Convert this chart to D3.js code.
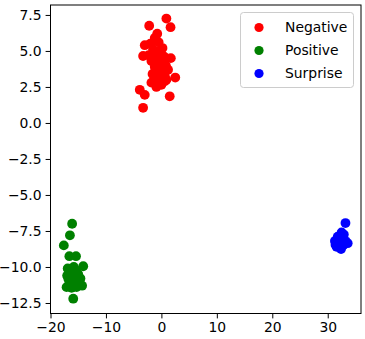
<!DOCTYPE html>
<html lang="en">
<head>
  <meta charset="UTF-8">
  <title>Scatter clusters</title>
  <script src="https://d3js.org/d3.v7.min.js"></script>
  <style>
    body { margin: 0; background: #fff; }
    svg { display: block; font-family: "DejaVu Sans", sans-serif; }
  </style>
</head>
<body>
<div id="chart"></div>
<script>
  // Data
  const categories = ["Negative", "Positive", "Surprise"];
  const colors = ["#ff0000", "#008000", "#0000ff"];

  const negative = [
    [-2.2, 6.75], [0.9, 7.25], [1.65, 6.65], [-0.75, 6.2], [-1.2, 5.9], [-3.0, 5.4],
    [-2.0, 5.5], [-0.5, 5.6], [0.2, 5.2], [-1.5, 5.1], [-3.3, 4.65], [-2.3, 4.7],
    [-0.8, 4.8], [1.7, 4.5], [0.5, 4.6], [-1.8, 4.3], [-0.3, 4.2], [0.8, 4.0],
    [-1.2, 3.9], [-0.6, 3.6], [0.3, 3.7], [1.2, 3.7], [-1.6, 3.4], [-0.2, 3.2],
    [0.6, 3.3], [2.5, 3.15], [-1.0, 3.0], [0.6, 2.9], [-1.8, 2.8], [0.0, 2.65],
    [-0.9, 2.5], [-3.9, 2.3], [-3.0, 1.95], [1.5, 1.85], [-3.3, 1.05], [-0.5, 4.5],
    [0.1, 3.9], [-1.1, 4.6], [-0.3, 5.0], [0.9, 3.0]
  ];
  const positive = [
    [-16.1, -7.0], [-16.5, -7.8], [-17.6, -8.5], [-16.6, -9.25], [-15.4, -9.25],
    [-14.1, -9.95], [-16.9, -10.1], [-16.3, -10.3], [-15.5, -10.2], [-17.0, -10.6],
    [-16.0, -10.7], [-15.0, -10.5], [-16.6, -11.0], [-15.6, -11.1], [-14.8, -11.0],
    [-17.1, -11.4], [-16.2, -11.45], [-15.3, -11.4], [-14.3, -11.3], [-15.9, -12.2],
    [-16.8, -10.8], [-15.8, -10.0], [-14.6, -10.8]
  ];
  const surprise = [
    [33.2, -6.95], [32.5, -7.6], [31.8, -7.9], [32.6, -8.0], [33.2, -8.2], [31.3, -8.2],
    [32.0, -8.4], [32.8, -8.5], [31.6, -8.6], [32.4, -8.75], [33.6, -8.35], [31.4, -8.45],
    [32.9, -7.75]
  ];
  const series = [negative, positive, surprise];

  const xTicks = [-20, -10, 0, 10, 20, 30];
  const yTicks = [-12.5, -10.0, -7.5, -5.0, -2.5, 0.0, 2.5, 5.0, 7.5];

  const width = 365, height = 339;
  const margin = {left: 50.5, right: 4, top: 5, bottom: 25.5};

  const x = d3.scaleLinear().domain([-20, 36]).range([margin.left, width - margin.right]);
  const y = d3.scaleLinear().domain([-13.23, 8.19]).range([height - margin.bottom, margin.top]);

  const svg = d3.select("#chart").append("svg")
    .attr("width", width)
    .attr("height", height);

  // points
  series.forEach((pts, i) => {
    svg.append("g").selectAll("circle")
      .data(pts)
      .join("circle")
      .attr("cx", d => x(d[0]))
      .attr("cy", d => y(d[1]))
      .attr("r", 4.9)
      .attr("fill", colors[i]);
  });

  const fmt = d => d3.format(".1f")(d).replace("-", "\u2212");

  const xAxis = svg.append("g")
    .attr("transform", `translate(0,${height - margin.bottom})`)
    .call(d3.axisBottom(x).tickValues(xTicks).tickSize(4.9).tickPadding(4)
      .tickFormat(d => String(d).replace("-", "\u2212")));
  const yAxis = svg.append("g")
    .attr("transform", `translate(${margin.left},0)`)
    .call(d3.axisLeft(y).tickValues(yTicks).tickSize(4.9).tickPadding(4).tickFormat(fmt));

  [xAxis, yAxis].forEach(a => {
    a.select(".domain").remove();
    a.selectAll("text").attr("font-size", "13.9px").attr("fill", "#000")
      .attr("font-family", "DejaVu Sans, sans-serif");
    a.selectAll("line").attr("stroke", "#000").attr("stroke-width", 1);
  });

  // frame
  svg.append("rect")
    .attr("x", margin.left).attr("y", margin.top)
    .attr("width", width - margin.right - margin.left)
    .attr("height", height - margin.bottom - margin.top)
    .attr("fill", "none").attr("stroke", "#000").attr("stroke-width", 1);

  // legend
  const lg = svg.append("g");
  lg.append("rect")
    .attr("x", 240.5).attr("y", 12.5).attr("width", 113).attr("height", 75)
    .attr("rx", 3).attr("fill", "#fff").attr("fill-opacity", 0.8)
    .attr("stroke", "#ccc");
  const item = lg.selectAll("g.item")
    .data(categories)
    .join("g")
    .attr("class", "item")
    .attr("transform", (d, i) => `translate(0,${27.5 + i * 23})`);
  item.append("circle")
    .attr("cx", 259).attr("cy", 0).attr("r", 4.6)
    .attr("fill", (d, i) => colors[i]);
  item.append("text")
    .attr("x", 285).attr("y", 0).attr("dy", "0.3em")
    .attr("font-size", "13.9px").attr("fill", "#000")
    .text(d => d);
</script>
</body>
</html>
